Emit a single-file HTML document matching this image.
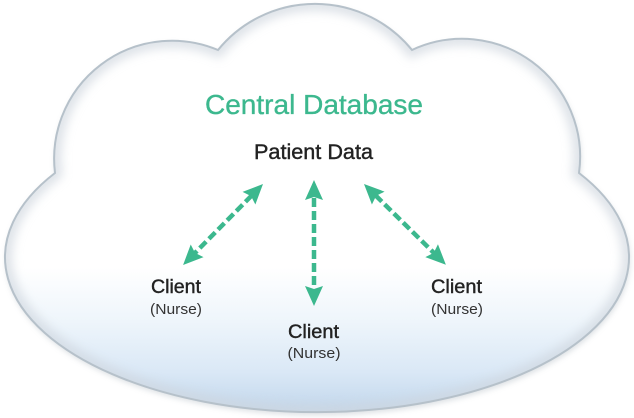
<!DOCTYPE html>
<html>
<head>
<meta charset="utf-8">
<style>
  html, body { margin: 0; padding: 0; background: #ffffff; }
  body { width: 634px; height: 418px; overflow: hidden; }
  svg { display: block; }
  text { font-family: "Liberation Sans", Arial, sans-serif; }
</style>
</head>
<body>
<svg width="634" height="418" viewBox="0 0 634 418" xmlns="http://www.w3.org/2000/svg">
  <defs>
    <linearGradient id="fillG" gradientUnits="userSpaceOnUse" x1="0" y1="0" x2="0" y2="418">
      <stop offset="0" stop-color="#ffffff"/>
      <stop offset="0.64" stop-color="#ffffff"/>
      <stop offset="0.77" stop-color="#eef5fb"/>
      <stop offset="0.89" stop-color="#dae8f6"/>
      <stop offset="1" stop-color="#bed4ea"/>
    </linearGradient>
    <clipPath id="cloudClip">
      <path d="M55,173 A118,118 0 0 1 218,50 A125,125 0 0 1 412,50 A118,118 0 0 1 579,173 A312,155 0 1 1 55,173 Z"/>
    </clipPath>
    <filter id="blur6" x="-20%" y="-20%" width="140%" height="140%">
      <feGaussianBlur stdDeviation="5"/>
    </filter>
    <filter id="blur3" x="-20%" y="-20%" width="140%" height="140%">
      <feGaussianBlur stdDeviation="3"/>
    </filter>
  </defs>

  <!-- outer soft shadow -->
  <path d="M55,173 A118,118 0 0 1 218,50 A125,125 0 0 1 412,50 A118,118 0 0 1 579,173 A312,155 0 1 1 55,173 Z"
        fill="#9aa6b0" opacity="0.35" transform="translate(1,3)" filter="url(#blur3)"/>

  <!-- cloud fill -->
  <path d="M55,173 A118,118 0 0 1 218,50 A125,125 0 0 1 412,50 A118,118 0 0 1 579,173 A312,155 0 1 1 55,173 Z"
        fill="url(#fillG)"/>

  <!-- inner shading -->
  <g clip-path="url(#cloudClip)">
    <path d="M55,173 A118,118 0 0 1 218,50 A125,125 0 0 1 412,50 A118,118 0 0 1 579,173 A312,155 0 1 1 55,173 Z"
          fill="none" stroke="#cfd6de" stroke-width="14" opacity="0.7" filter="url(#blur6)"/>
  </g>

  <!-- outline -->
  <path d="M55,173 A118,118 0 0 1 218,50 A125,125 0 0 1 412,50 A118,118 0 0 1 579,173 A312,155 0 1 1 55,173 Z"
        fill="none" stroke="#b6c1ca" stroke-width="2"/>

  <!-- Titles -->
  <text x="314" y="114" font-size="28" fill="#3cb88e" stroke="#3cb88e" stroke-width="0.35" text-anchor="middle" textLength="218" lengthAdjust="spacingAndGlyphs">Central Database</text>
  <text x="313.5" y="159" font-size="21" fill="#222222" stroke="#222222" stroke-width="0.4" text-anchor="middle" textLength="119" lengthAdjust="spacingAndGlyphs">Patient Data</text>

  <!-- Arrows -->
  <g fill="#3cb88e" stroke="none">
    <g transform="translate(263,184) rotate(134.6)">
      <line x1="16" y1="0" x2="97.8" y2="0" stroke="#3cb88e" stroke-width="4.5" stroke-dasharray="9 4"/>
      <polygon points="0,0 20,-9 17,0 20,9"/>
      <polygon points="113.8,0 93.8,-9 96.8,0 93.8,9"/>
    </g>
    <g transform="translate(314,180) rotate(90)">
      <line x1="18" y1="0" x2="108" y2="0" stroke="#3cb88e" stroke-width="4.5" stroke-dasharray="9 4"/>
      <polygon points="0,0 20,-9 17,0 20,9"/>
      <polygon points="126,0 106,-9 109,0 106,9"/>
    </g>
    <g transform="translate(364,184) rotate(44.6)">
      <line x1="16" y1="0" x2="99" y2="0" stroke="#3cb88e" stroke-width="4.5" stroke-dasharray="9 4"/>
      <polygon points="0,0 20,-9 17,0 20,9"/>
      <polygon points="115,0 95,-9 98,0 95,9"/>
    </g>
  </g>

  <!-- Clients -->
  <text x="176" y="293" font-size="19.5" fill="#222222" stroke="#222222" stroke-width="0.4" text-anchor="middle" textLength="50" lengthAdjust="spacingAndGlyphs">Client</text>
  <text x="176" y="314" font-size="15" fill="#333333" text-anchor="middle" textLength="52" lengthAdjust="spacingAndGlyphs">(Nurse)</text>

  <text x="456.5" y="293" font-size="19.5" fill="#222222" stroke="#222222" stroke-width="0.4" text-anchor="middle" textLength="51" lengthAdjust="spacingAndGlyphs">Client</text>
  <text x="457" y="314" font-size="15" fill="#333333" text-anchor="middle" textLength="52" lengthAdjust="spacingAndGlyphs">(Nurse)</text>

  <text x="313.5" y="338" font-size="19.5" fill="#222222" stroke="#222222" stroke-width="0.4" text-anchor="middle" textLength="51" lengthAdjust="spacingAndGlyphs">Client</text>
  <text x="314" y="358" font-size="15" fill="#333333" text-anchor="middle" textLength="53" lengthAdjust="spacingAndGlyphs">(Nurse)</text>
</svg>
</body>
</html>
